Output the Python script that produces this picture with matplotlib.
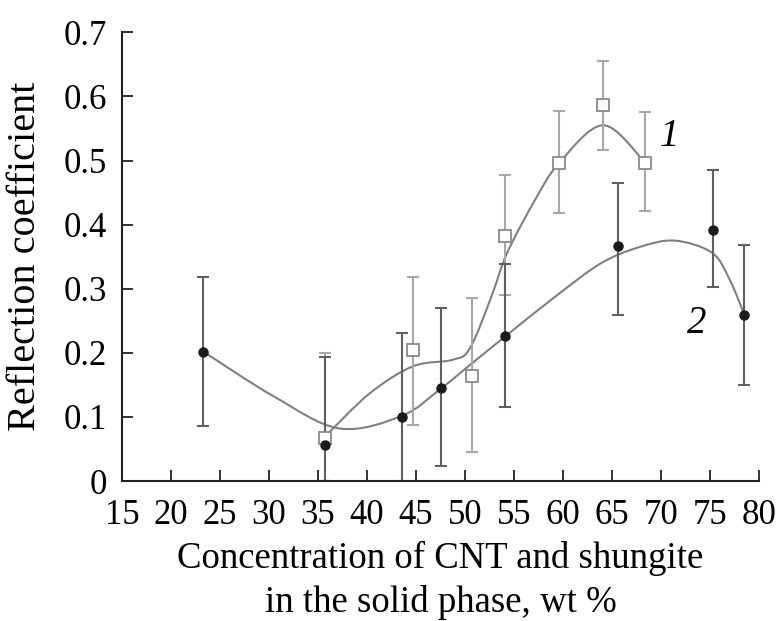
import numpy as np
import matplotlib
matplotlib.use('Agg')
import matplotlib.pyplot as plt
from matplotlib.path import Path
from matplotlib.patches import PathPatch

# series 1 (open squares)
x1 = [35.7, 44.7, 50.7, 54.1, 59.6, 64.1, 68.4]
y1 = [0.067, 0.204, 0.164, 0.383, 0.496, 0.586, 0.496]
lo1 = [0.0, 0.088, 0.046, 0.290, 0.418, 0.516, 0.421]
hi1 = [0.200, 0.319, 0.285, 0.477, 0.578, 0.655, 0.575]

# series 2 (filled circles)
x2 = [23.3, 35.7, 43.6, 47.6, 54.1, 65.6, 75.3, 78.5]
y2 = [0.202, 0.056, 0.100, 0.145, 0.227, 0.367, 0.391, 0.259]
lo2 = [0.086, 0.0, 0.0, 0.024, 0.115, 0.259, 0.302, 0.150]
hi2 = [0.318, 0.194, 0.231, 0.270, 0.339, 0.465, 0.485, 0.368]

# smoothed trend curves
c1x = [35.9, 40.3, 44.7, 48.7, 50.5, 52.7, 54.3, 57.2, 59.6, 64.1, 68.4]
c1y = [0.072, 0.137, 0.179, 0.189, 0.207, 0.288, 0.356, 0.440, 0.496, 0.555, 0.496]
c2x = [23.3, 30.5, 37.2, 43.6, 47.6, 50.5, 54.3, 59.4, 63.9, 67.8, 71.4, 75.2, 77.0, 78.5]
c2y = [0.202, 0.132, 0.082, 0.102, 0.145, 0.181, 0.228, 0.290, 0.340, 0.365, 0.375, 0.356, 0.314, 0.259]

plt.rcParams['font.family'] = ['Liberation Serif', 'DejaVu Serif']


def smooth_path(xs, ys):
    p = np.column_stack([xs, ys])
    pts = np.vstack([p[0], p, p[-1]])
    verts = [tuple(p[0])]
    codes = [Path.MOVETO]
    for i in range(1, len(pts) - 2):
        p0, a, b, p3 = pts[i - 1], pts[i], pts[i + 1], pts[i + 2]
        verts += [tuple(a + (b - p0) / 6), tuple(b - (p3 - a) / 6), tuple(b)]
        codes += [Path.CURVE4] * 3
    return Path(verts, codes)


fig = plt.figure(figsize=(7.81, 6.21), dpi=100)
ax = fig.add_axes([0.156, 0.2254, 0.816, 0.7226])

for cx, cy in [(c1x, c1y), (c2x, c2y)]:
    ax.add_patch(PathPatch(smooth_path(cx, cy), fill=False, edgecolor='#808080', lw=1.5))

y1a, y2a = np.array(y1), np.array(y2)
ax.errorbar(x1, y1, yerr=[y1a - np.array(lo1), np.array(hi1) - y1a], fmt='none',
            ecolor='#a8a8a8', elinewidth=1.5, capsize=4, capthick=1.5)
ax.errorbar(x2, y2, yerr=[y2a - np.array(lo2), np.array(hi2) - y2a], fmt='none',
            ecolor='#606060', elinewidth=1.5, capsize=4, capthick=1.5)
ax.plot(x1, y1, 's', ms=8, mfc='white', mec='#8a8a8a', mew=1.3, zorder=5)
ax.plot(x2, y2, 'o', ms=6.5, color='#1a1a1a', zorder=5)

ax.text(70.8, 0.5375, '1', fontsize=28, style='italic', ha='center', va='center')
ax.text(73.6, 0.245, '2', fontsize=28, style='italic', ha='center', va='center')

ax.set_xlim(15, 80)
ax.set_ylim(0, 0.7)
ax.set_xticks(range(15, 81, 5))
ax.set_yticks(np.arange(0, 0.71, 0.1))
ax.set_yticklabels(['0', '0.1', '0.2', '0.3', '0.4', '0.5', '0.6', '0.7'])
for s in ['top', 'right']:
    ax.spines[s].set_visible(False)
for s in ['left', 'bottom']:
    ax.spines[s].set_linewidth(1.5)
    ax.spines[s].set_color('#222222')
ax.tick_params(direction='in', length=8, width=1.3, labelsize=25, color='#222222')
ax.tick_params(axis='x', pad=13)
ax.tick_params(axis='y', pad=11)
ax.set_xlabel('Concentration of CNT and shungite\nin the solid phase, wt %', fontsize=26.5,
              linespacing=1.35, labelpad=6)
ax.set_ylabel('Reflection coefficient', fontsize=29, labelpad=14)

fig.savefig('out.png', dpi=100)
